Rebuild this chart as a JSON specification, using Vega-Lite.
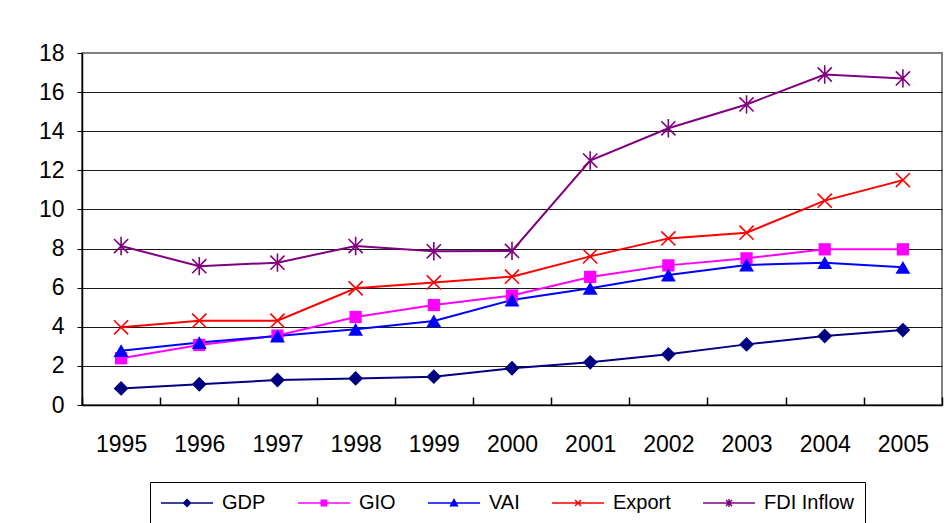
{
  "$schema": "https://vega.github.io/schema/vega-lite/v6.json",
  "width": 860,
  "height": 352,
  "autosize": {"type": "none"},
  "padding": {"left": 82, "top": 53, "right": 9, "bottom": 118},
  "background": "white",
  "config": {
    "view": {"stroke": "#808080", "strokeWidth": 2},
    "font": "Liberation Sans"
  },
  "data": {
    "values": [
      {"year": "1995", "series": "GDP", "value": 0.85},
      {"year": "1996", "series": "GDP", "value": 1.06},
      {"year": "1997", "series": "GDP", "value": 1.28},
      {"year": "1998", "series": "GDP", "value": 1.36},
      {"year": "1999", "series": "GDP", "value": 1.45},
      {"year": "2000", "series": "GDP", "value": 1.88},
      {"year": "2001", "series": "GDP", "value": 2.18},
      {"year": "2002", "series": "GDP", "value": 2.59},
      {"year": "2003", "series": "GDP", "value": 3.1},
      {"year": "2004", "series": "GDP", "value": 3.53},
      {"year": "2005", "series": "GDP", "value": 3.83},
      {"year": "1995", "series": "GIO", "value": 2.39},
      {"year": "1996", "series": "GIO", "value": 3.07},
      {"year": "1997", "series": "GIO", "value": 3.55},
      {"year": "1998", "series": "GIO", "value": 4.5},
      {"year": "1999", "series": "GIO", "value": 5.11},
      {"year": "2000", "series": "GIO", "value": 5.6},
      {"year": "2001", "series": "GIO", "value": 6.55},
      {"year": "2002", "series": "GIO", "value": 7.14},
      {"year": "2003", "series": "GIO", "value": 7.5},
      {"year": "2004", "series": "GIO", "value": 7.96},
      {"year": "2005", "series": "GIO", "value": 7.96},
      {"year": "1995", "series": "VAI", "value": 2.78},
      {"year": "1996", "series": "VAI", "value": 3.19},
      {"year": "1997", "series": "VAI", "value": 3.53},
      {"year": "1998", "series": "VAI", "value": 3.87},
      {"year": "1999", "series": "VAI", "value": 4.3},
      {"year": "2000", "series": "VAI", "value": 5.37},
      {"year": "2001", "series": "VAI", "value": 5.97},
      {"year": "2002", "series": "VAI", "value": 6.65},
      {"year": "2003", "series": "VAI", "value": 7.16},
      {"year": "2004", "series": "VAI", "value": 7.28},
      {"year": "2005", "series": "VAI", "value": 7.04},
      {"year": "1995", "series": "Export", "value": 3.97},
      {"year": "1996", "series": "Export", "value": 4.31},
      {"year": "1997", "series": "Export", "value": 4.31},
      {"year": "1998", "series": "Export", "value": 5.97},
      {"year": "1999", "series": "Export", "value": 6.27},
      {"year": "2000", "series": "Export", "value": 6.56},
      {"year": "2001", "series": "Export", "value": 7.6},
      {"year": "2002", "series": "Export", "value": 8.52},
      {"year": "2003", "series": "Export", "value": 8.81},
      {"year": "2004", "series": "Export", "value": 10.45},
      {"year": "2005", "series": "Export", "value": 11.5},
      {"year": "1995", "series": "FDI Inflow", "value": 8.13},
      {"year": "1996", "series": "FDI Inflow", "value": 7.1},
      {"year": "1997", "series": "FDI Inflow", "value": 7.28},
      {"year": "1998", "series": "FDI Inflow", "value": 8.13},
      {"year": "1999", "series": "FDI Inflow", "value": 7.86},
      {"year": "2000", "series": "FDI Inflow", "value": 7.88},
      {"year": "2001", "series": "FDI Inflow", "value": 12.5},
      {"year": "2002", "series": "FDI Inflow", "value": 14.15},
      {"year": "2003", "series": "FDI Inflow", "value": 15.37},
      {"year": "2004", "series": "FDI Inflow", "value": 16.9},
      {"year": "2005", "series": "FDI Inflow", "value": 16.7}
    ]
  },
  "encoding": {
    "x": {
      "field": "year",
      "type": "ordinal",
      "scale": {"paddingInner": 0, "paddingOuter": 0},
      "axis": {
        "title": null,
        "labelAngle": 0,
        "labelFontSize": 23,
        "labelColor": "#000000",
        "labelFont": "Liberation Sans",
        "labelPadding": 36,
        "tickBand": "extent",
        "tickSize": -8,
        "tickWidth": 1.5,
        "tickColor": "#000000",
        "domainColor": "#000000",
        "domainWidth": 1.5,
        "grid": false
      }
    },
    "y": {
      "field": "value",
      "type": "quantitative",
      "scale": {"domain": [0, 18], "nice": false},
      "axis": {
        "title": null,
        "values": [0, 2, 4, 6, 8, 10, 12, 14, 16, 18],
        "labelFontSize": 23,
        "labelColor": "#000000",
        "labelFont": "Liberation Sans",
        "labelPadding": 13,
        "tickSize": 5,
        "tickColor": "#000000",
        "domainColor": "#000000",
        "domainWidth": 1.5,
        "grid": true,
        "gridColor": {"condition": {"test": "datum.value == 18", "value": "#808080"}, "value": "#1a1a1a"},
        "gridWidth": 1,
        "gridOpacity": 1
      }
    },
    "color": {
      "field": "series",
      "type": "nominal",
      "scale": {
        "domain": ["GDP", "GIO", "VAI", "Export", "FDI Inflow"],
        "range": ["#000080", "#FF00FF", "#0000FF", "#FF0000", "#800080"]
      },
      "legend": null
    }
  },
  "layer": [
    {
      "mark": {"type": "line", "strokeWidth": 2},
      "encoding": {
        "color": {
          "field": "series",
          "type": "nominal",
          "scale": {
            "domain": ["GDP", "GIO", "VAI", "Export", "FDI Inflow"],
            "range": ["#000080", "#FF00FF", "#0000FF", "#FF0000", "#800080"]
          },
          "legend": {
            "title": null,
            "orient": "none",
            "direction": "horizontal",
            "legendX": 68,
            "legendY": 429,
            "strokeColor": "#000000",
            "padding": 10,
            "fillColor": "white",
            "labelFontSize": 20,
            "labelFont": "Liberation Sans",
            "labelColor": "#000000",
            "labelOffset": 24,
            "symbolOffset": 16,
            "columnPadding": 29,
            "symbolSize": 400,
            "symbolStrokeWidth": 1.5,
            "symbolOpacity": 1
          }
        }
      }
    },
    {
      "transform": [{"filter": "datum.series === 'GDP'"}],
      "mark": {"type": "point", "shape": "diamond", "filled": true, "size": 220, "opacity": 1}
    },
    {
      "transform": [{"filter": "datum.series === 'GIO'"}],
      "mark": {"type": "point", "shape": "square", "filled": true, "size": 150, "opacity": 1}
    },
    {
      "transform": [{"filter": "datum.series === 'VAI'"}],
      "mark": {"type": "point", "shape": "triangle-up", "filled": true, "size": 220, "opacity": 1}
    },
    {
      "transform": [{"filter": "datum.series === 'Export'"}],
      "mark": {"type": "point", "shape": "M-1,-1L1,1M-1,1L1,-1", "filled": false, "size": 200, "strokeWidth": 1.6, "opacity": 1}
    },
    {
      "transform": [{"filter": "datum.series === 'FDI Inflow'"}],
      "mark": {"type": "point", "shape": "M-1,-1L1,1M-1,1L1,-1M0,-1.3V1.3", "filled": false, "size": 200, "strokeWidth": 1.6, "opacity": 1}
    },
    {
      "mark": {"type": "point", "filled": true, "size": 400, "opacity": 0},
      "encoding": {
        "shape": {
          "field": "series",
          "type": "nominal",
          "scale": {
            "domain": ["GDP", "GIO", "VAI", "Export", "FDI Inflow"],
            "range": [
              "M-2.6,0H2.6M0,-0.34L0.34,0L0,0.34L-0.34,0Z",
              "M-2.6,0H2.6M-0.27,-0.27H0.27V0.27H-0.27Z",
              "M-2.6,0H2.6M0,-0.34L0.34,0.28L-0.34,0.28Z",
              "M-2.6,0H2.6M-0.3,-0.3L0.3,0.3M-0.3,0.3L0.3,-0.3",
              "M-2.6,0H2.6M-0.3,-0.3L0.3,0.3M-0.3,0.3L0.3,-0.3M0,-0.4V0.4"
            ]
          },
          "legend": null
        }
      }
    }
  ]
}
